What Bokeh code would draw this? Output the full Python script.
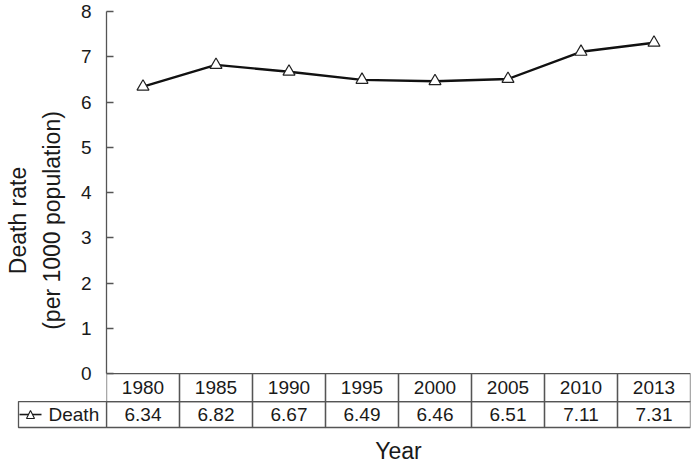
from bokeh.plotting import figure
from bokeh.models import FactorRange, Range1d, FixedTicker, Title
from bokeh.core.properties import value
from bokeh.embed import file_html
from bokeh.resources import INLINE

# ---- data ----
years = ["1980", "1985", "1990", "1995", "2000", "2005", "2010", "2013"]
death = [6.34, 6.82, 6.67, 6.49, 6.46, 6.51, 7.11, 7.31]
series_name = "Death"
y_ticks = [0, 1, 2, 3, 4, 5, 6, 7, 8]
value_labels = [f"{v:.2f}" for v in death]

# ---- style / layout ----
FONT = "Liberation Sans"
INK = "#1a1a1a"
RULE = "#555555"
W, H = 692, 470
LEFT, RIGHT, TOP = 106, 2, 11
FRAME_H = 419
BOTTOM = H - TOP - FRAME_H
FRAME_W = W - LEFT - RIGHT
ROW1, ROW2, PAD = 28, 26, 2                       # table row heights (px)
PX = (FRAME_H - ROW1 - ROW2 - PAD) / 8.0          # px per y unit
CAT_W = FRAME_W / len(years)                      # px per category

y_top = 8
y_start = -(ROW1 + ROW2 + PAD) / PX
hdr_bottom = -ROW1 / PX
tbl_bottom = -(ROW1 + ROW2) / PX
row1_mid = hdr_bottom / 2
row2_mid = (hdr_bottom + tbl_bottom) / 2

p = figure(x_range=FactorRange(factors=years), y_range=Range1d(y_start, y_top),
           width=W, height=H, output_backend="svg", toolbar_location=None,
           x_axis_location=None,
           min_border_left=LEFT, min_border_right=RIGHT,
           min_border_top=TOP, min_border_bottom=BOTTOM)
p.outline_line_color = None
p.xgrid.visible = False
p.ygrid.visible = False
p.background_fill_color = "white"

# y axis
ya = p.yaxis[0]
ya.ticker = FixedTicker(ticks=y_ticks)
ya.bounds = (0, 8)
ya.axis_line_color = RULE
ya.axis_line_width = 1.3
ya.major_tick_line_color = RULE
ya.major_tick_line_width = 1.3
ya.major_tick_in = 7
ya.major_tick_out = 0
ya.minor_tick_line_color = None
ya.major_label_text_font = FONT
ya.major_label_text_font_size = "19px"
ya.major_label_text_color = INK
ya.major_label_standoff = 15
ya.axis_label = "Death rate\n(per 1000 population)"
ya.axis_label_text_font = FONT
ya.axis_label_text_font_size = "23px"
ya.axis_label_text_font_style = "normal"
ya.axis_label_text_color = INK
ya.axis_label_text_line_height = 1.3
ya.axis_label_standoff = 13

# x title "Year"
p.add_layout(Title(text="Year", align="center", vertical_align="bottom",
                   text_font=FONT, text_font_size="23px", text_font_style="normal",
                   text_color=INK, standoff=13, offset=4), "below")

# data table under the plot
p.vbar(x=years, width=1, top=0, bottom=hdr_bottom, fill_color=None,
       line_color=RULE, line_width=1.3)
p.vbar(x=years, width=1, top=hdr_bottom, bottom=tbl_bottom, fill_color=None,
       line_color=RULE, line_width=1.3)
p.text(x=years, y=[row1_mid] * len(years), text=years, text_align="center",
       text_baseline="middle", text_font=value(FONT), text_font_size="19px",
       text_color=INK)
p.text(x=years, y=[row2_mid] * len(years), text=value_labels, text_align="center",
       text_baseline="middle", text_font=value(FONT), text_font_size="19px",
       text_color=INK)

# legend cell (left of the frame)
cell_left = -88 / CAT_W
p.quad(left=[cell_left], right=[0], top=[hdr_bottom], bottom=[tbl_bottom],
       fill_color=None, line_color=RULE, line_width=1.3, level="overlay")
icon_x0, icon_x1 = cell_left + 1 / CAT_W, cell_left + 23 / CAT_W
icon_cx = (icon_x0 + icon_x1) / 2
p.segment(x0=[icon_x0], x1=[icon_x1], y0=[row2_mid], y1=[row2_mid],
          line_color=INK, line_width=1.6, level="overlay")
hw, hh = 4 / CAT_W, 4 / PX
p.patch(x=[icon_cx - hw, icon_cx + hw, icon_cx], y=[row2_mid - hh, row2_mid - hh, row2_mid + hh],
        fill_color="white", line_color=INK, line_width=1.1, level="overlay")
p.text(x=[cell_left + 30 / CAT_W], y=[row2_mid], text=[series_name],
       text_align="left", text_baseline="middle", text_font=value(FONT),
       text_font_size="19px", text_color=INK, level="overlay")

# series
p.line(x=years, y=death, line_color="#111111", line_width=2.4)
p.scatter(x=years, y=death, marker="triangle", size=12, fill_color="white",
          line_color="#222222", line_width=1.2)

open("out.html", "w").write(file_html(p, INLINE))
